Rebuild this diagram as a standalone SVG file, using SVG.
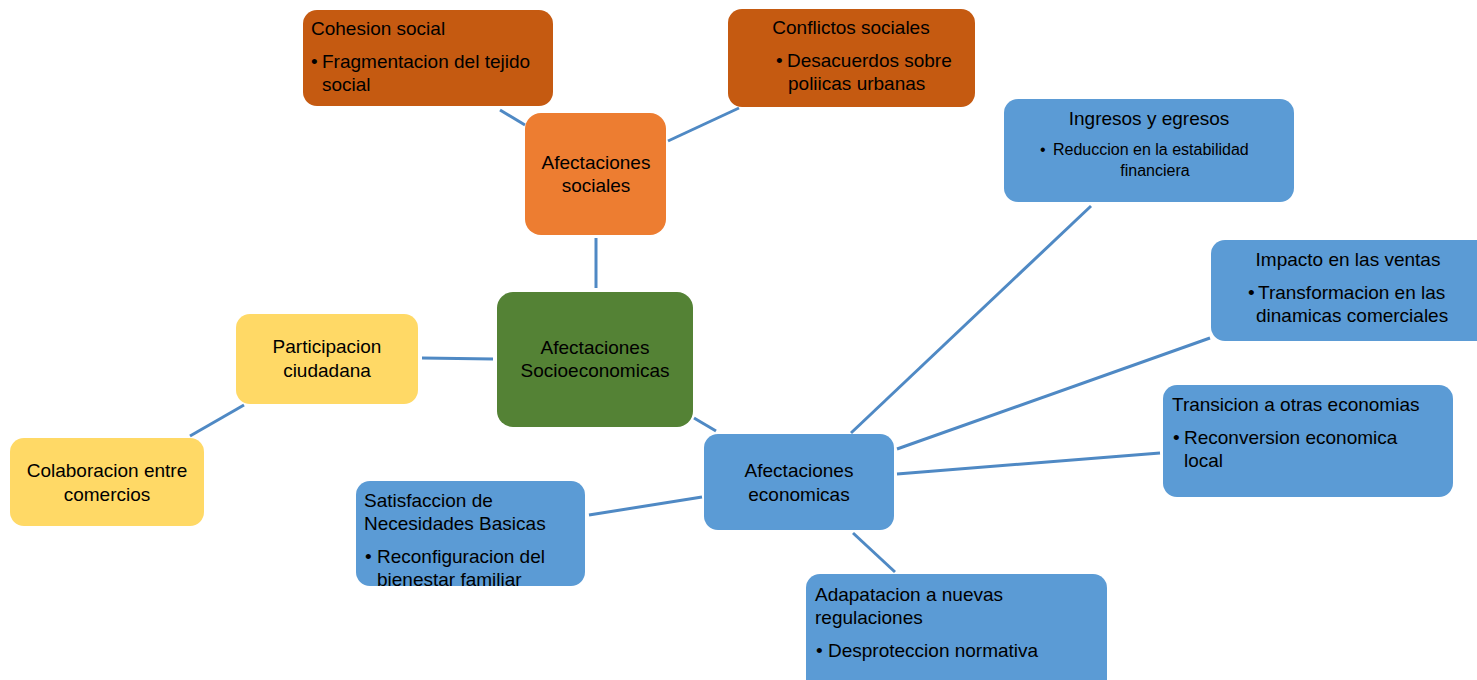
<svg xmlns="http://www.w3.org/2000/svg" width="1477" height="680" viewBox="0 0 1477 680">
<style>
.t{font-family:"Liberation Sans",Arial,sans-serif;font-size:19px;fill:#000}
.s{font-size:16px}
.c{text-anchor:middle}
.dk{fill:#C55A11}
.or{fill:#ED7D31}
.bl{fill:#5B9BD5}
.gr{fill:#548235}
.ye{fill:#FFD966}
.ln{stroke:#4F89C4;stroke-width:3;fill:none}
</style>
<defs>
<clipPath id="clipSat"><rect x="356" y="481" width="229" height="105" rx="14"/></clipPath>
</defs>
<rect width="1477" height="680" fill="#fff"/>
<g id="connectors">
<line class="ln" x1="500" y1="110" x2="525" y2="125"/>
<line class="ln" x1="668" y1="141" x2="739" y2="108"/>
<line class="ln" x1="596" y1="238" x2="596" y2="288"/>
<line class="ln" x1="422" y1="358" x2="493" y2="359"/>
<line class="ln" x1="190" y1="436" x2="244" y2="405"/>
<line class="ln" x1="694" y1="418" x2="716" y2="431"/>
<line class="ln" x1="851" y1="433" x2="1091" y2="206"/>
<line class="ln" x1="897" y1="449" x2="1210" y2="338"/>
<line class="ln" x1="897" y1="474" x2="1160" y2="453"/>
<line class="ln" x1="589" y1="515" x2="702" y2="497"/>
<line class="ln" x1="853" y1="533" x2="895" y2="572"/>
</g>
<g id="cohesion">
<rect class="dk" x="303" y="10" width="250" height="96" rx="14"/>
<text class="t" x="311" y="35">Cohesion social</text>
<text class="t" x="311" y="68">•</text>
<text class="t" x="322" y="68">Fragmentacion del tejido</text>
<text class="t" x="322" y="91">social</text>
</g>
<g id="conflictos">
<rect class="dk" x="728" y="9" width="247" height="98" rx="14"/>
<text class="t c" x="851" y="34">Conflictos sociales</text>
<text class="t" x="776" y="67">•</text>
<text class="t" x="787" y="67">Desacuerdos sobre</text>
<text class="t" x="788" y="90">poliicas urbanas</text>
</g>
<g id="sociales">
<rect class="or" x="525" y="113" width="141" height="122" rx="16"/>
<text class="t c" x="596" y="169">Afectaciones</text>
<text class="t c" x="596" y="192">sociales</text>
</g>
<g id="ingresos">
<rect class="bl" x="1004" y="99" width="290" height="103" rx="14"/>
<text class="t c" x="1149" y="125">Ingresos y egresos</text>
<text class="t s" x="1040" y="155">•</text>
<text class="t s" x="1053" y="155">Reduccion en la estabilidad</text>
<text class="t s c" x="1155" y="176">financiera</text>
</g>
<g id="impacto">
<rect class="bl" x="1211" y="240" width="280" height="101" rx="14"/>
<text class="t c" x="1348" y="266">Impacto en las ventas</text>
<text class="t" x="1248" y="299">•</text>
<text class="t" x="1258" y="299">Transformacion en las</text>
<text class="t" x="1256" y="322">dinamicas comerciales</text>
</g>
<g id="socioeconomicas">
<rect class="gr" x="497" y="292" width="196" height="135" rx="16"/>
<text class="t c" x="595" y="354">Afectaciones</text>
<text class="t c" x="595" y="377">Socioeconomicas</text>
</g>
<g id="participacion">
<rect class="ye" x="236" y="314" width="182" height="90" rx="14"/>
<text class="t c" x="327" y="353">Participacion</text>
<text class="t c" x="327" y="377">ciudadana</text>
</g>
<g id="colaboracion">
<rect class="ye" x="10" y="438" width="194" height="88" rx="14"/>
<text class="t c" x="107" y="477">Colaboracion entre</text>
<text class="t c" x="107" y="501">comercios</text>
</g>
<g id="economicas">
<rect class="bl" x="704" y="434" width="190" height="96" rx="14"/>
<text class="t c" x="799" y="477">Afectaciones</text>
<text class="t c" x="799" y="501">economicas</text>
</g>
<g id="transicion">
<rect class="bl" x="1163" y="385" width="290" height="112" rx="14"/>
<text class="t" x="1172" y="411">Transicion a otras economias</text>
<text class="t" x="1173" y="444">•</text>
<text class="t" x="1184" y="444">Reconversion economica</text>
<text class="t" x="1184" y="467">local</text>
</g>
<g id="satisfaccion">
<rect class="bl" x="356" y="481" width="229" height="105" rx="14"/>
<g clip-path="url(#clipSat)">
<text class="t" x="364" y="507">Satisfaccion de</text>
<text class="t" x="364" y="530">Necesidades Basicas</text>
<text class="t" x="365" y="563">•</text>
<text class="t" x="377" y="563">Reconfiguracion del</text>
<text class="t" x="377" y="586">bienestar familiar</text>
</g>
</g>
<g id="adaptacion">
<rect class="bl" x="806" y="574" width="301" height="120" rx="14"/>
<text class="t" x="815" y="601">Adapatacion a nuevas</text>
<text class="t" x="815" y="624">regulaciones</text>
<text class="t" x="816" y="657">•</text>
<text class="t" x="828" y="657">Desproteccion normativa</text>
</g>
</svg>
